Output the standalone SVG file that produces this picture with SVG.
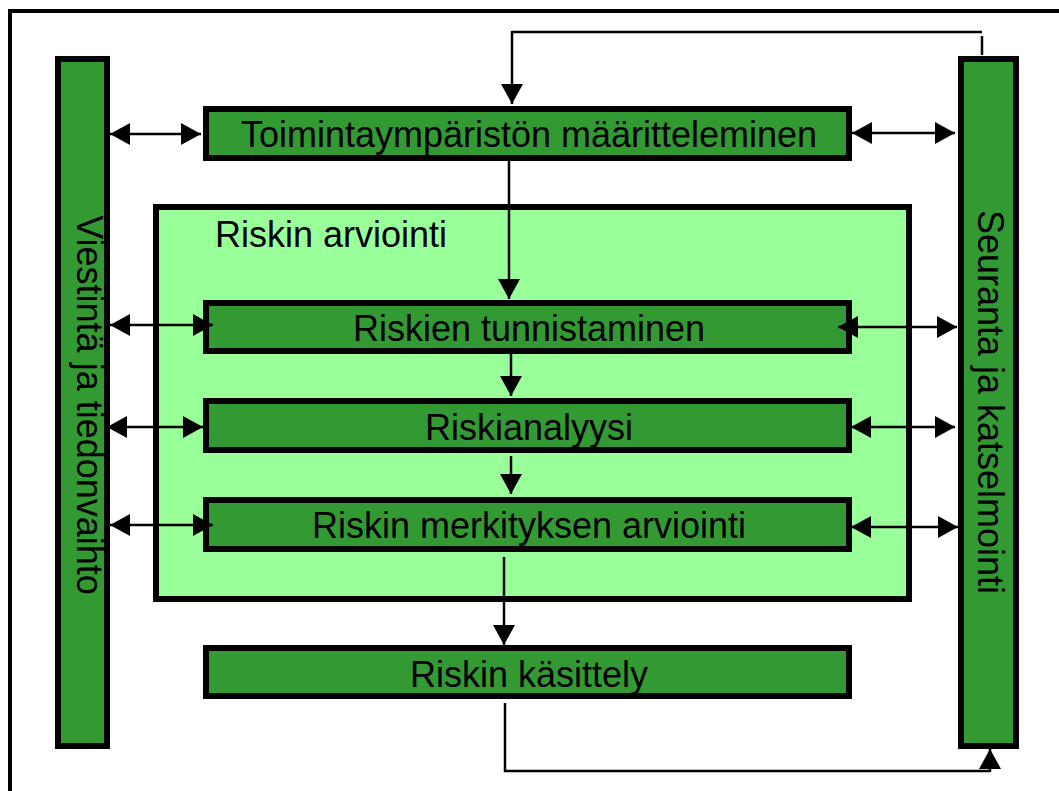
<svg xmlns="http://www.w3.org/2000/svg" width="1059" height="791" viewBox="0 0 1059 791">
  <defs>
    <marker id="ah" viewBox="0 0 20 22" refX="20" refY="11" markerWidth="20" markerHeight="22" markerUnits="userSpaceOnUse" orient="auto-start-reverse">
      <path d="M0,0 L20,11 L0,22 Z" fill="#000"/>
    </marker>
    <style>
      .box { fill: #339933; stroke: #000; stroke-width: 6; }
      .zone { fill: #99ff99; stroke: #000; stroke-width: 6; }
      .lbl { font-family: "Liberation Sans", Arial, sans-serif; font-size: 36px; fill: #000; }
      .c { stroke: #000; stroke-width: 2.5; fill: none; }
      .dbl { marker-start: url(#ah); marker-end: url(#ah); }
      .one { marker-end: url(#ah); }
    </style>
  </defs>

  <!-- outer frame -->
  <rect x="10" y="11" width="1060" height="800" fill="#fff" stroke="#000" stroke-width="4"/>

  <g id="communication">
    <rect class="box" x="58" y="59" width="49" height="687"/>
    <text class="lbl" transform="translate(77,405) rotate(90)" text-anchor="middle">Viestintä ja tiedonvaihto</text>
  </g>

  <g id="monitoring">
    <rect class="box" x="961" y="59" width="55" height="687"/>
    <text class="lbl" transform="translate(978,402) rotate(90)" text-anchor="middle">Seuranta ja katselmointi</text>
  </g>

  <g id="assessment">
    <rect class="zone" x="156" y="207" width="753" height="392"/>
    <text class="lbl" x="215" y="247">Riskin arviointi</text>
  </g>

  <g id="context">
    <rect class="box" x="206" y="109" width="643" height="49"/>
    <text class="lbl" x="529" y="147" text-anchor="middle">Toimintaympäristön määritteleminen</text>
  </g>

  <g id="identification">
    <rect class="box" x="206" y="303" width="643" height="48"/>
    <text class="lbl" x="529" y="341" text-anchor="middle">Riskien tunnistaminen</text>
  </g>

  <g id="analysis">
    <rect class="box" x="206" y="401" width="643" height="49"/>
    <text class="lbl" x="529" y="440" text-anchor="middle">Riskianalyysi</text>
  </g>

  <g id="evaluation">
    <rect class="box" x="206" y="500" width="643" height="49"/>
    <text class="lbl" x="529" y="538" text-anchor="middle">Riskin merkityksen arviointi</text>
  </g>

  <g id="treatment">
    <rect class="box" x="206" y="648" width="643" height="48"/>
    <text class="lbl" x="529" y="687" text-anchor="middle">Riskin käsittely</text>
  </g>

  <g id="connectors">
    <!-- feedback from monitoring back to context -->
    <polyline class="c" points="982,32 512,32"/>
    <line class="c" x1="982" y1="36" x2="982" y2="55"/>
    <line class="c one" x1="512" y1="31" x2="512" y2="104"/>

    <!-- main flow -->
    <line class="c one" x1="509" y1="161" x2="509" y2="299"/>
    <line class="c one" x1="511" y1="354" x2="511" y2="396"/>
    <line class="c one" x1="511" y1="456" x2="511" y2="494"/>
    <line class="c one" x1="504" y1="557" x2="504" y2="645"/>

    <!-- treatment to monitoring -->
    <polyline class="c" points="505,703 505,771 990,771"/>
    <line class="c one" x1="990" y1="772" x2="990" y2="749"/>

    <!-- communication links -->
    <line class="c dbl" x1="110" y1="134" x2="201" y2="134"/>
    <line class="c dbl" x1="110" y1="325" x2="213" y2="325"/>
    <line class="c dbl" x1="107" y1="427" x2="203" y2="427"/>
    <line class="c dbl" x1="110" y1="525" x2="213" y2="525"/>

    <!-- monitoring links -->
    <line class="c dbl" x1="852" y1="133" x2="955" y2="133"/>
    <line class="c dbl" x1="838" y1="327" x2="957" y2="327"/>
    <line class="c dbl" x1="851" y1="427" x2="955" y2="427"/>
    <line class="c dbl" x1="851" y1="527" x2="958" y2="527"/>
  </g>
</svg>
